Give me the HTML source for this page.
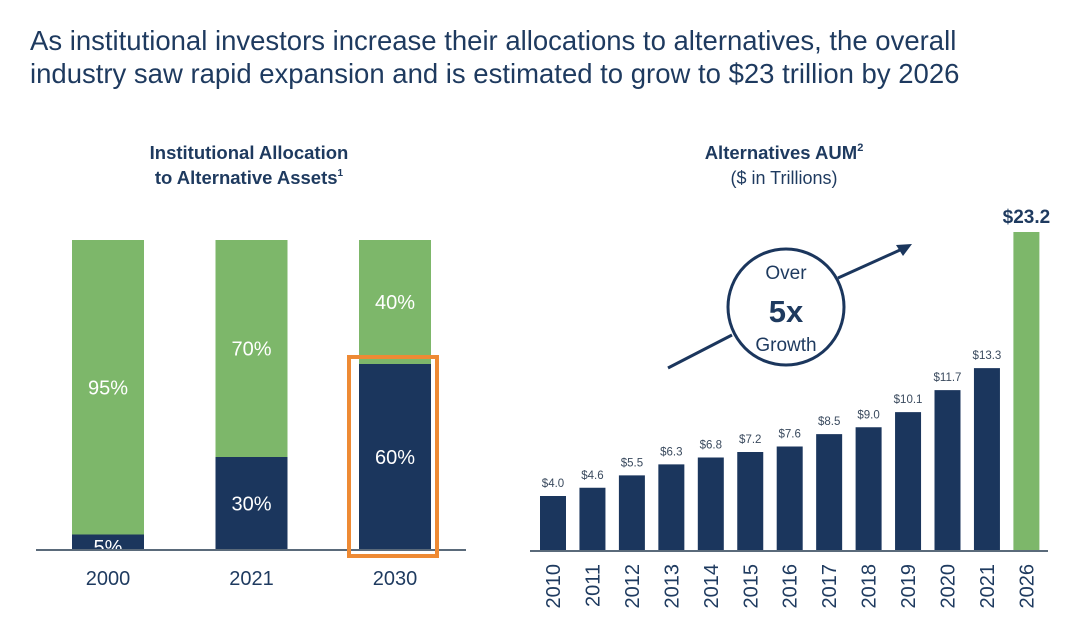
<!DOCTYPE html>
<html><head><meta charset="utf-8"><style>
body{margin:0;background:#fff;font-family:"Liberation Sans",sans-serif;}
svg text{font-family:"Liberation Sans",sans-serif;}
</style></head><body>
<svg width="1084" height="638" viewBox="0 0 1084 638" xmlns="http://www.w3.org/2000/svg">
<text x="30" y="50" font-size="27.5" fill="#1e3a5f">As institutional investors increase their allocations to alternatives, the overall</text>
<text x="30" y="83" font-size="27.5" fill="#1e3a5f">industry saw rapid expansion and is estimated to grow to $23 trillion by 2026</text>
<text x="249" y="159" font-size="18.5" font-weight="bold" fill="#1e3a5f" text-anchor="middle">Institutional Allocation</text>
<text x="249" y="184" font-size="18.5" font-weight="bold" fill="#1e3a5f" text-anchor="middle">to Alternative Assets<tspan font-size="10" dy="-8">1</tspan></text>
<text x="784" y="159" font-size="18.5" font-weight="bold" fill="#1e3a5f" text-anchor="middle">Alternatives AUM<tspan font-size="11" dy="-8">2</tspan></text>
<text x="784" y="184" font-size="18" fill="#1e3a5f" text-anchor="middle">($ in Trillions)</text>
<g id="left"></g>
<g id="right"></g>
<g>
<line x1="668" y1="368" x2="732" y2="335" stroke="#1b365d" stroke-width="3"/>
<line x1="838" y1="278" x2="900" y2="250" stroke="#1b365d" stroke-width="3"/>
<polygon points="912,244 896,245 903,256" fill="#1b365d"/>
<circle cx="786" cy="307" r="58" fill="none" stroke="#1b365d" stroke-width="3"/>
<text x="786" y="279" font-size="19" fill="#1e3a5f" text-anchor="middle">Over</text>
<text x="786" y="322" font-size="31" font-weight="bold" fill="#1e3a5f" text-anchor="middle">5x</text>
<text x="786" y="351" font-size="19" fill="#1e3a5f" text-anchor="middle">Growth</text>
</g>
</svg>
<script>
const NS='http://www.w3.org/2000/svg';
const NAVY='#1b365d',GREEN='#7db76a';
const allocYears=['2000','2021','2030'];
const altShare=[5,30,60];
const tradShare=[95,70,40];
const aumYears=['2010','2011','2012','2013','2014','2015','2016','2017','2018','2019','2020','2021','2026'];
const aumValues=[4.0,4.6,5.5,6.3,6.8,7.2,7.6,8.5,9.0,10.1,11.7,13.3,23.2];
function mk(tag,attrs,parent){const e=document.createElementNS(NS,tag);for(const k in attrs)e.setAttribute(k,attrs[k]);parent.appendChild(e);return e;}
const L=document.getElementById('left');
const lBase=550,lH=310;
const ly=v=>lBase-v/100*lH;
const lx=i=>72+i*143.5;
allocYears.forEach((y,i)=>{
  const x=lx(i),w=72;
  const d=mk('rect',{x:x,y:ly(altShare[i]),width:w,height:lBase-ly(altShare[i]),fill:NAVY},L);
  
  
  const g=mk('rect',{x:x,y:ly(altShare[i]+tradShare[i]),width:w,height:ly(altShare[i])-ly(altShare[i]+tradShare[i]),fill:GREEN},L);
  
  
  const t1=mk('text',{x:x+w/2,y:(ly(altShare[i])+ly(altShare[i]+tradShare[i]))/2+7,'font-size':20,fill:'#fff','text-anchor':'middle'},L);
  t1.textContent=tradShare[i]+'%';
  
  
  const t2=mk('text',{x:x+w/2,y:altShare[i]<10?lBase+4:(ly(altShare[i])+lBase)/2+7,'font-size':20,fill:'#fff','text-anchor':'middle'},L);
  t2.textContent=altShare[i]+'%';
  
  
  const yl=mk('text',{x:x+w/2,y:585,'font-size':20,fill:'#1e3a5f','text-anchor':'middle'},L);
  yl.textContent=y;
  
  
});
const la=mk('line',{x1:36,y1:lBase,x2:466,y2:lBase,stroke:'#5a6a7a','stroke-width':2},L);


const hl=mk('rect',{x:349,y:357,width:88,height:199,fill:'none',stroke:'#ee8a34','stroke-width':4},L);


const R=document.getElementById('right');
const rBase=551,perUnit=13.75;
const ry=v=>rBase-v*perUnit;
const rx=i=>540+i*39.45;
aumYears.forEach((y,i)=>{
  const x=rx(i),w=26,last=i===aumYears.length-1;
  const b=mk('rect',{x:x,y:ry(aumValues[i]),width:w,height:rBase-ry(aumValues[i]),fill:last?GREEN:NAVY},R);
  
  
  const t=mk('text',{x:x+w/2,y:ry(aumValues[i])-(last?9:9),'font-size':last?19:11.5,'font-weight':last?'bold':'normal',fill:last?'#1e3a5f':'#3a4a5e','text-anchor':'middle'},R);
  t.textContent='$'+aumValues[i].toFixed(1);
  
  
  const yl=mk('text',{x:0,y:0,'font-size':20,fill:'#1e3a5f','text-anchor':'end',transform:'translate('+(x+w/2+7)+',564) rotate(-90)'},R);
  yl.textContent=y;
  
  
});
const ra=mk('line',{x1:530,y1:rBase,x2:1048,y2:rBase,stroke:'#5a6a7a','stroke-width':2},R);


</script>
</body></html>
